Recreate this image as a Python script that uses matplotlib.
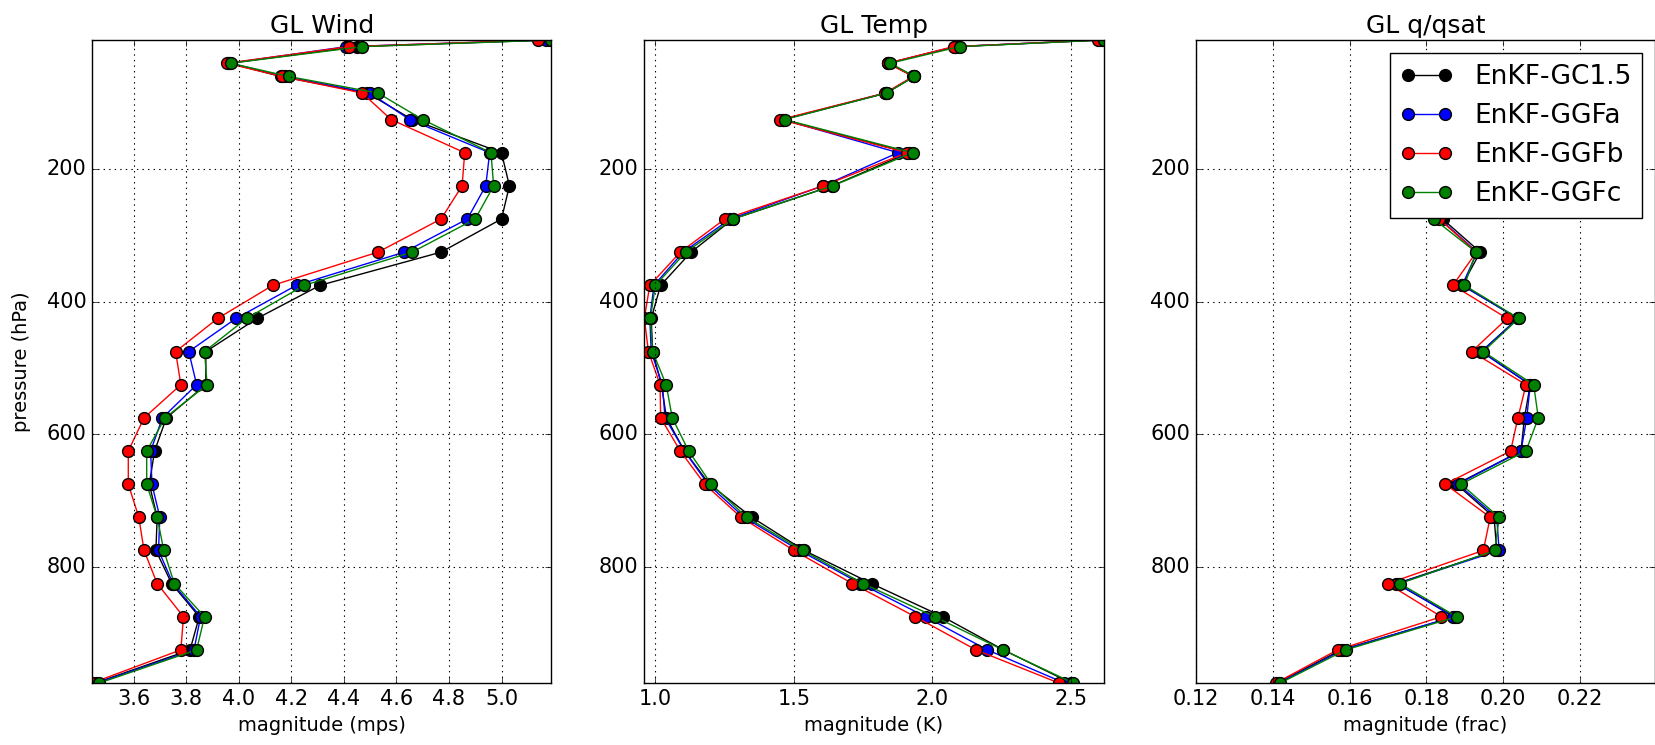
import numpy as np
import matplotlib
matplotlib.use('Agg')
from matplotlib import pyplot as plt

plt.style.use('classic')

# pressure levels (hPa)
levels = [5, 15, 40, 60, 85, 125, 175, 225, 275, 325, 375, 425, 475,
          525, 575, 625, 675, 725, 775, 825, 875, 925, 975]

names = ['EnKF-GC1.5', 'EnKF-GGFa', 'EnKF-GGFb', 'EnKF-GGFc']
colors = ['k', 'b', 'r', 'g']

# wind magnitude (mps)
wind_gc15 = [5.18, 4.45, 3.965, 4.16, 4.49, 4.66, 5.00, 5.03, 5.00, 4.77, 4.31, 4.07, 3.875,
             3.875, 3.725, 3.68, 3.66, 3.69, 3.685, 3.745, 3.85, 3.815, 3.455]
wind_ggfa = [5.17, 4.41, 3.965, 4.175, 4.50, 4.65, 4.955, 4.94, 4.87, 4.63, 4.22, 3.99, 3.81,
             3.84, 3.71, 3.665, 3.67, 3.70, 3.695, 3.75, 3.855, 3.83, 3.46]
wind_ggfb = [5.14, 4.42, 3.955, 4.165, 4.47, 4.58, 4.86, 4.85, 4.77, 4.53, 4.13, 3.92, 3.76,
             3.78, 3.64, 3.58, 3.58, 3.62, 3.64, 3.69, 3.79, 3.78, 3.442]
wind_ggfc = [5.19, 4.47, 3.97, 4.19, 4.53, 4.70, 4.96, 4.97, 4.90, 4.66, 4.25, 4.03, 3.87,
             3.88, 3.72, 3.65, 3.65, 3.69, 3.715, 3.755, 3.87, 3.84, 3.47]

# temperature magnitude (K)
temp_gc15 = [2.61, 2.085, 1.84, 1.934, 1.832, 1.46, 1.915, 1.638, 1.28, 1.129, 1.019, 0.985, 0.99,
             1.022, 1.04, 1.105, 1.195, 1.348, 1.537, 1.78, 2.037, 2.256, 2.50]
temp_ggfa = [2.605, 2.08, 1.84, 1.934, 1.832, 1.46, 1.876, 1.605, 1.27, 1.10, 0.995, 0.98, 0.985,
             1.025, 1.035, 1.105, 1.19, 1.32, 1.52, 1.74, 1.975, 2.198, 2.476]
temp_ggfb = [2.598, 2.076, 1.838, 1.93, 1.829, 1.451, 1.908, 1.606, 1.251, 1.09, 0.98, 0.96, 0.975,
             1.017, 1.019, 1.09, 1.178, 1.309, 1.50, 1.711, 1.938, 2.157, 2.456]
temp_ggfc = [2.618, 2.098, 1.848, 1.935, 1.835, 1.466, 1.928, 1.64, 1.28, 1.11, 1.0, 0.982, 0.99,
             1.039, 1.061, 1.12, 1.202, 1.329, 1.531, 1.75, 2.008, 2.254, 2.508]

# q/qsat magnitude (frac), upper levels not shown
nan = np.nan
q_gc15 = [nan, nan, nan, nan, nan, nan, nan, 0.186, 0.1842, 0.194, 0.1893, 0.2038, 0.1943,
          0.207, 0.2055, 0.2046, 0.1878, 0.1976, 0.1983, 0.1722, 0.1874, 0.1578, 0.1413]
q_ggfa = [nan, nan, nan, nan, nan, nan, nan, 0.185, 0.1835, 0.1932, 0.1893, 0.2038, 0.1943,
          0.207, 0.2061, 0.2046, 0.1882, 0.1983, 0.1989, 0.1725, 0.187, 0.1583, 0.1417]
q_ggfb = [nan, nan, nan, nan, nan, nan, nan, 0.185, 0.1833, 0.193, 0.1869, 0.201, 0.1918,
          0.2059, 0.2038, 0.2019, 0.1849, 0.1966, 0.1948, 0.1699, 0.1839, 0.1569, 0.1408]
q_ggfc = [nan, nan, nan, nan, nan, nan, nan, 0.184, 0.1819, 0.1929, 0.1899, 0.204, 0.1948,
          0.2079, 0.2091, 0.2059, 0.189, 0.1989, 0.1978, 0.1731, 0.1879, 0.159, 0.142]

panels = [
    ('GL Wind', 'magnitude (mps)', [wind_gc15, wind_ggfa, wind_ggfb, wind_ggfc]),
    ('GL Temp', 'magnitude (K)', [temp_gc15, temp_ggfa, temp_ggfb, temp_ggfc]),
    ('GL q/qsat', 'magnitude (frac)', [q_gc15, q_ggfa, q_ggfb, q_ggfc]),
]

fig = plt.figure(figsize=(16.55, 7.45), dpi=100, facecolor='w')
lefts = [0.0556, 0.3893, 0.7225]

for i, (title, xlabel, series) in enumerate(panels):
    ax = fig.add_axes([lefts[i], 0.0832, 0.2776, 0.8631])
    for vals, c, name in zip(series, colors, names):
        ax.plot(vals, levels, '-o', color=c, mec='k', mew=1, ms=8.5, lw=1.0, label=name)
    ax.set_ylim(max(levels), min(levels))
    if i < 2:
        allv = np.array(series, dtype=float)
        ax.set_xlim(np.nanmin(allv), np.nanmax(allv))
    else:
        ax.set_xlim(0.12, 0.2395)
    ax.set_yticks([200, 400, 600, 800])
    ax.grid(True, color='k', linestyle=':', linewidth=0.8)
    ax.tick_params(labelsize=15)
    ax.set_title(title, fontsize=18)
    ax.set_xlabel(xlabel, fontsize=14)
    if i == 0:
        ax.set_ylabel('pressure (hPa)', fontsize=14, labelpad=11)
    if i == 2:
        ax.legend(loc='upper right', fontsize=19, numpoints=2)

fig.savefig('out.png', dpi=100, facecolor='w')
